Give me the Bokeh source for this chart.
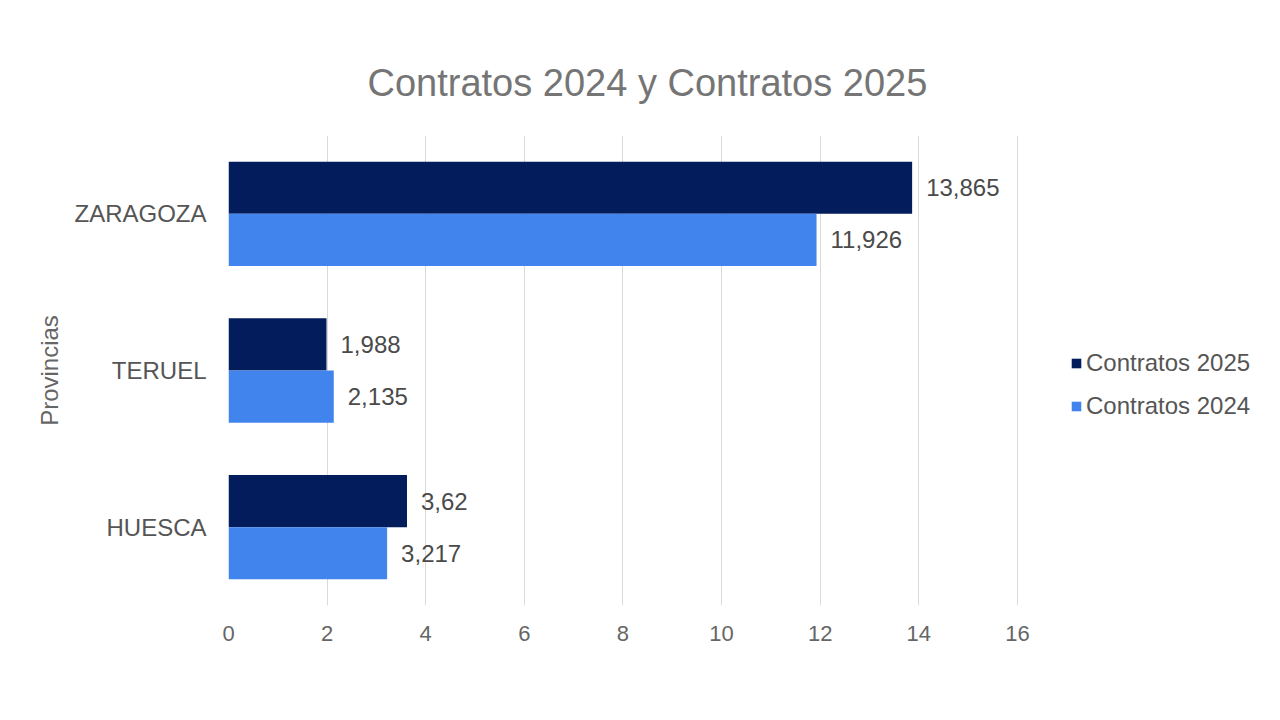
from bokeh.plotting import figure
from bokeh.models import ColumnDataSource, FactorRange, Range1d, FixedTicker, Legend, LegendItem
from bokeh.transform import dodge
from bokeh.embed import file_html
from bokeh.resources import INLINE

# ---- data ----
provincias = ["HUESCA", "TERUEL", "ZARAGOZA"]
contratos_2025 = [3.62, 1.988, 13.865]
contratos_2024 = [3.217, 2.135, 11.926]
x_ticks = [0, 2, 4, 6, 8, 10, 12, 14, 16]

def fmt(v):
    return str(v).replace(".", ",")

src = ColumnDataSource(dict(
    prov=provincias,
    c25=contratos_2025,
    c24=contratos_2024,
    l25=[fmt(v) for v in contratos_2025],
    l24=[fmt(v) for v in contratos_2024],
))

FONT = "Liberation Sans"
C25 = "#031c5c"
C24 = "#4284ee"

# the frame stretches past 16 to leave room for the legend (grid only at the ticks 0..16)
p = figure(width=1264, height=704, y_range=FactorRange(*provincias, range_padding=0),
           x_range=Range1d(0, 20.91), output_backend="svg", toolbar_location=None,
           min_border_left=228, min_border_right=5, min_border_top=135, min_border_bottom=99)
p.outline_line_color = None

p.title.text = "Contratos 2024 y Contratos 2025"
p.title.text_font = FONT
p.title.text_font_size = "38px"
p.title.text_font_style = "normal"
p.title.text_color = "#757575"
p.title.align = "left"
p.title.offset = 139
p.title.standoff = 64

r25 = p.hbar(y=dodge("prov", 0.1667, range=p.y_range), right="c25", left=0, height=0.333,
             source=src, fill_color=C25, line_color=None)
r24 = p.hbar(y=dodge("prov", -0.1667, range=p.y_range), right="c24", left=0, height=0.333,
             source=src, fill_color=C24, line_color=None)

p.text(x="c25", y=dodge("prov", 0.1667, range=p.y_range), text="l25", source=src,
       x_offset=14, text_align="left", text_baseline="middle",
       text_font_size="24px", text_color="#4a4a4a", text_font={"value": FONT})
p.text(x="c24", y=dodge("prov", -0.1667, range=p.y_range), text="l24", source=src,
       x_offset=14, text_align="left", text_baseline="middle",
       text_font_size="24px", text_color="#4a4a4a", text_font={"value": FONT})

# axes
p.xaxis.ticker = FixedTicker(ticks=x_ticks)
p.xaxis.axis_line_color = None
p.xaxis.major_tick_line_color = None
p.xaxis.minor_tick_line_color = None
p.xaxis.major_label_standoff = 14
p.xaxis.major_label_text_font = FONT
p.xaxis.major_label_text_font_size = "22px"
p.xaxis.major_label_text_color = "#666666"

p.yaxis.axis_line_color = None
p.yaxis.major_tick_line_color = None
p.yaxis.minor_tick_line_color = None
p.yaxis.major_label_standoff = 16
p.yaxis.major_label_text_font = FONT
p.yaxis.major_label_text_font_size = "24px"
p.yaxis.major_label_text_color = "#555555"
p.yaxis.axis_label = "Provincias"
p.yaxis.axis_label_text_font = FONT
p.yaxis.axis_label_text_font_size = "24px"
p.yaxis.axis_label_text_font_style = "normal"
p.yaxis.axis_label_text_color = "#666666"
p.yaxis.axis_label_standoff = 8

p.ygrid.grid_line_color = None
p.xgrid.grid_line_color = "#d9d9d9"
p.xgrid.grid_line_width = 1

legend = Legend(items=[LegendItem(label="Contratos 2025", renderers=[r25]),
                       LegendItem(label="Contratos 2024", renderers=[r24])],
                location=(842, 185), orientation="vertical")
legend.border_line_color = None
legend.background_fill_alpha = 0
legend.label_text_font = FONT
legend.label_text_font_size = "24px"
legend.label_text_color = "#555555"
legend.glyph_width = 12
legend.glyph_height = 12
legend.label_standoff = 4
legend.spacing = 15
legend.padding = 0
legend.margin = 0
p.add_layout(legend, "center")

open("out.html", "w").write(file_html(p, INLINE))
